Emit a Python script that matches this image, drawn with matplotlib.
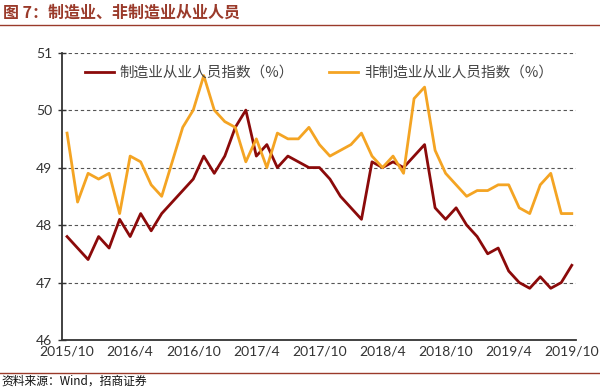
import numpy as np
import matplotlib.pyplot as plt
from matplotlib.lines import Line2D

plt.rcParams['font.family'] = ['Noto Sans CJK SC', 'DejaVu Sans']

# 月份标签（2015/10 - 2019/10，共49个月）
tick_labels = ['2015/10', '2016/4', '2016/10', '2017/4', '2017/10',
               '2018/4', '2018/10', '2019/4', '2019/10']

# 制造业从业人员指数
mfg = [47.8, 47.6, 47.4, 47.8, 47.6, 48.1, 47.8, 48.2, 47.9, 48.2,
       48.4, 48.6, 48.8, 49.2, 48.9, 49.2, 49.7, 50.0, 49.2, 49.4,
       49.0, 49.2, 49.1, 49.0, 49.0, 48.8, 48.5, 48.3, 48.1, 49.1,
       49.0, 49.1, 49.0, 49.2, 49.4, 48.3, 48.1, 48.3, 48.0, 47.8,
       47.5, 47.6, 47.2, 47.0, 46.9, 47.1, 46.9, 47.0, 47.3]

# 非制造业从业人员指数
non_mfg = [49.6, 48.4, 48.9, 48.8, 48.9, 48.2, 49.2, 49.1, 48.7, 48.5,
           49.1, 49.7, 50.0, 50.6, 50.0, 49.8, 49.7, 49.1, 49.5, 49.0,
           49.6, 49.5, 49.5, 49.7, 49.4, 49.2, 49.3, 49.4, 49.6, 49.2,
           49.0, 49.2, 48.9, 50.2, 50.4, 49.3, 48.9, 48.7, 48.5, 48.6,
           48.6, 48.7, 48.7, 48.3, 48.2, 48.7, 48.9, 48.2, 48.2]

red = '#8B0A0A'
orange = '#F4A423'
title_color = '#9A3A2A'

fig = plt.figure(figsize=(6.0, 3.91), dpi=100)
ax = fig.add_axes([0.103, 0.1304, 0.857, 0.735])

x = np.arange(len(mfg))
ax.plot(x, mfg, color=red, lw=2.0, label='制造业从业人员指数（%）', zorder=3)
ax.plot(x, non_mfg, color=orange, lw=2.0, label='非制造业从业人员指数（%）', zorder=3)

ax.set_xlim(-0.5, 48.4)
ax.set_ylim(46, 51)
ax.set_yticks([46, 47, 48, 49, 50, 51])
ax.set_xticks(np.arange(0, 49, 6))
ax.set_xticklabels(tick_labels)

for v in [47, 48, 49, 50, 51]:
    ax.axhline(v, color='#555555', lw=0.8, ls=(0, (3, 2.5)), zorder=1)

for s in ['top', 'right']:
    ax.spines[s].set_visible(False)
ax.spines['left'].set_color('#333333')
ax.spines['bottom'].set_color('#333333')
ax.spines['left'].set_linewidth(1.3)
ax.spines['bottom'].set_linewidth(1.3)

ax.tick_params(axis='x', length=0, pad=4)
ax.tick_params(axis='y', direction='inout', length=6, width=1.0, color='#333333', pad=4)
for lab in ax.get_xticklabels() + ax.get_yticklabels():
    lab.set_fontfamily(['Lato', 'DejaVu Sans'])
    lab.set_fontsize(10)
    lab.set_color('#333333')

leg = ax.legend(loc='center', bbox_to_anchor=(0.5, 0.93), ncol=2, frameon=False,
                fontsize=10.5, handlelength=2.0, handletextpad=0.4,
                columnspacing=2.4)
for t in leg.get_texts():
    t.set_color('#444444')

# 标题与分隔线
fig.text(0.005, 0.967, '图 7：制造业、非制造业从业人员', fontsize=11.5,
         fontweight='bold', color=title_color, va='center', ha='left')
fig.add_artist(Line2D([0, 1], [0.937, 0.937], transform=fig.transFigure,
                      color=title_color, lw=1.0))
fig.add_artist(Line2D([0, 1], [0.047, 0.047], transform=fig.transFigure,
                      color=title_color, lw=1.0))
fig.text(0.003, 0.025, '资料来源：Wind，招商证券', fontsize=8.5,
         color='#111111', va='center', ha='left')

fig.savefig('out.png', dpi=100)
